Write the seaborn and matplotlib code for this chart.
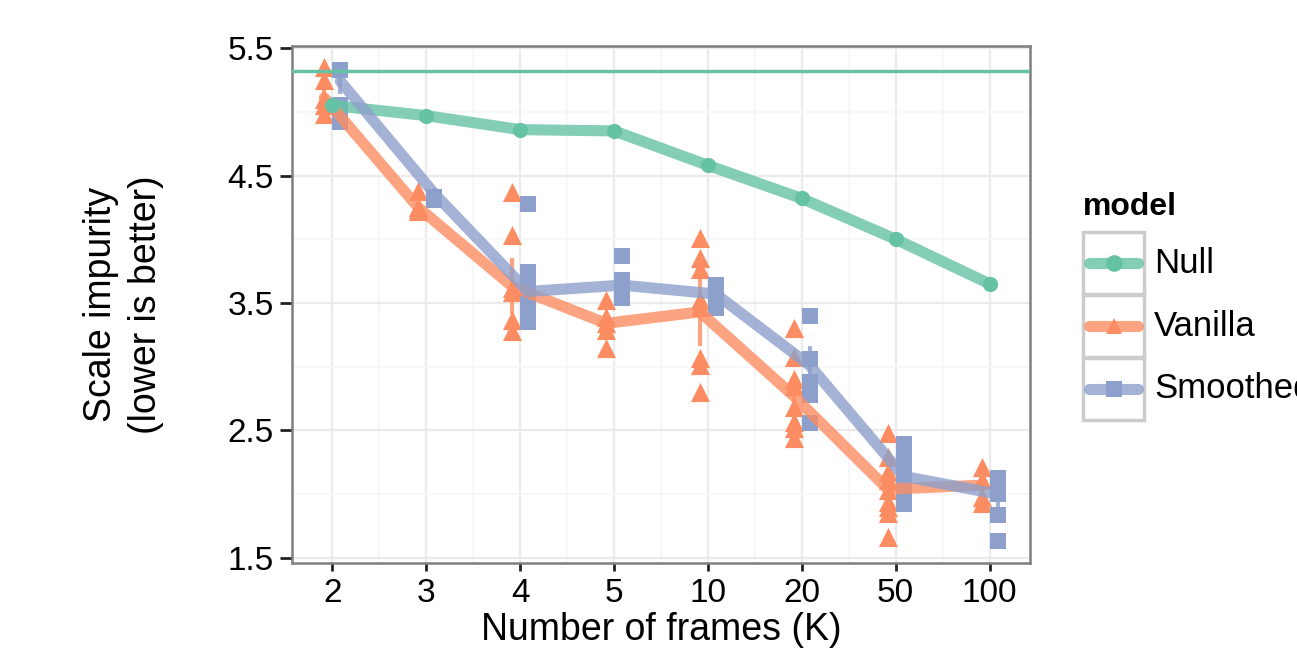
import numpy as np
import pandas as pd
import matplotlib
matplotlib.use("Agg")
import matplotlib.pyplot as plt
from matplotlib.patches import Rectangle
from matplotlib.lines import Line2D
import seaborn as sns

# ---- data ----
frames = ["2", "3", "4", "5", "10", "20", "50", "100"]
models = ["Null", "Vanilla", "Smoothed"]

null_mean = [5.05, 4.97, 4.86, 4.85, 4.58, 4.32, 4.00, 3.65]
null_baseline = 5.32

vanilla_mean = [5.11, 4.25, 3.63, 3.34, 3.43, 2.77, 2.04, 2.07]
vanilla_err = [0.08, 0.04, 0.22, 0.07, 0.27, 0.15, 0.10, 0.06]
vanilla_runs = {
    "2": [5.35, 5.25, 5.10, 5.05, 4.98],
    "3": [4.38, 4.25, 4.24, 4.22],
    "4": [4.37, 4.03, 3.62, 3.59, 3.37, 3.28],
    "5": [3.52, 3.39, 3.34, 3.29, 3.15],
    "10": [4.01, 3.85, 3.77, 3.52, 3.47, 3.07, 3.01, 2.80],
    "20": [3.30, 3.08, 2.90, 2.85, 2.68, 2.57, 2.52, 2.44],
    "50": [2.48, 2.29, 2.17, 2.11, 2.03, 1.94, 1.90, 1.85, 1.66],
    "100": [2.21, 2.11, 1.98, 1.93],
}

smoothed_mean = [5.24, 4.36, 3.59, 3.64, 3.57, 3.01, 2.14, 2.00]
smoothed_err = [0.10, 0.04, 0.10, 0.06, 0.08, 0.15, 0.12, 0.10]
smoothed_runs = {
    "2": [5.33, 5.33, 5.05, 4.98, 4.92],
    "3": [4.33, 4.31],
    "4": [4.28, 3.74, 3.65, 3.55, 3.45, 3.35],
    "5": [3.87, 3.68, 3.62, 3.56, 3.54],
    "10": [3.64, 3.58, 3.52, 3.46],
    "20": [3.40, 3.06, 2.88, 2.83, 2.78, 2.56],
    "50": [2.39, 2.30, 2.20, 2.10, 2.00, 1.92],
    "100": [2.13, 2.05, 2.00, 1.84, 1.63],
}

palette = {"Null": "#66c2a5", "Vanilla": "#fc8d62", "Smoothed": "#8da0cb"}
markers = {"Null": "o", "Vanilla": "^", "Smoothed": "s"}
msize = {"Null": 120, "Vanilla": 190, "Smoothed": 140}
dodge = {"Null": 0.0, "Vanilla": -0.085, "Smoothed": 0.085}

# ---- long tables ----
pos = {k: i for i, k in enumerate(frames)}
rows = []
for model, runs in [("Vanilla", vanilla_runs), ("Smoothed", smoothed_runs)]:
    for k, vals in runs.items():
        for v in vals:
            rows.append((model, k, pos[k] + dodge[model], v))
runs_df = pd.DataFrame(rows, columns=["model", "frames", "x", "impurity"])

mean_df = pd.concat([
    pd.DataFrame({"model": m, "frames": frames, "mean": mu, "err": e})
    for m, mu, e in [("Null", null_mean, [0] * len(frames)),
                     ("Vanilla", vanilla_mean, vanilla_err),
                     ("Smoothed", smoothed_mean, smoothed_err)]
], ignore_index=True)
mean_df["x"] = mean_df["frames"].map(pos) + mean_df["model"].map(dodge)

# ---- figure ----
sns.set_theme(style="whitegrid")
plt.rcParams["font.family"] = ["Liberation Sans", "DejaVu Sans"]
plt.rcParams["text.color"] = "black"
plt.rcParams["axes.labelcolor"] = "black"

fig = plt.figure(figsize=(12.97, 6.65), dpi=100)
ax = fig.add_axes([0.2251, 0.1534, 0.569, 0.7774])

# individual runs
for m in ["Vanilla", "Smoothed"]:
    sns.scatterplot(data=runs_df[runs_df.model == m], x="x", y="impurity",
                    color=palette[m], marker=markers[m], s=msize[m], linewidth=0,
                    ax=ax, legend=False, zorder=3)

# error bars
for m in ["Vanilla", "Smoothed"]:
    d = mean_df[mean_df.model == m]
    ax.vlines(d["x"], d["mean"] - d["err"], d["mean"] + d["err"],
              color=palette[m], alpha=0.8, lw=3, zorder=4)

# mean lines
sns.lineplot(data=mean_df, x="x", y="mean", hue="model", hue_order=models,
             palette=palette, lw=8, alpha=0.8, ax=ax, legend=False,
             estimator=None, sort=False, zorder=5)
d = mean_df[mean_df.model == "Null"]
sns.scatterplot(data=d, x="x", y="mean", color=palette["Null"], s=msize["Null"],
                linewidth=0, ax=ax, legend=False, zorder=6)

ax.axhline(null_baseline, color=palette["Null"], lw=2.5, zorder=6)

# axes styling
ax.set_xlim(-0.43, 7.43)
ax.set_ylim(1.46, 5.516)
ax.set_xticks(range(len(frames)))
ax.set_xticklabels(frames)
ax.set_xticks(np.arange(len(frames) - 1) + 0.5, minor=True)
ax.set_yticks([1.5, 2.5, 3.5, 4.5, 5.5])
ax.set_yticklabels(["1.5", "2.5", "3.5", "4.5", "5.5"])
ax.set_yticks([2.0, 3.0, 4.0, 5.0], minor=True)
ax.grid(which="major", color="#ebebeb", lw=1.6)
ax.grid(which="minor", color="#f6f6f6", lw=1.2)
ax.set_facecolor("white")
for s in ax.spines.values():
    s.set_color("#7f7f7f")
    s.set_linewidth(1.8)
ax.tick_params(which="major", direction="out", width=2, color="#222222",
               labelsize=24, labelcolor="black", bottom=True, left=True)
ax.tick_params(axis="x", which="major", length=6, pad=5)
ax.tick_params(axis="y", which="major", length=9, pad=4)
ax.tick_params(which="minor", length=0)
ax.set_xlabel("Number of frames (K)", fontsize=27, labelpad=2)
ax.set_ylabel("Scale impurity\n(lower is better)", fontsize=27, labelpad=46,
              linespacing=1.3)

# legend in ggplot style (boxed keys)
fig.text(1083 / 1297, 1 - 207 / 665, "model", fontsize=23, fontweight="bold",
         va="center", ha="left")
key_top = [232, 295, 358]
for i, m in enumerate(models):
    y0 = key_top[i]
    fig.patches.append(Rectangle((1083 / 1297, 1 - (y0 + 62) / 665),
                                 61 / 1297, 62 / 665, transform=fig.transFigure,
                                 facecolor="white", edgecolor="#cccccc", lw=2.5))
    yc = 1 - (y0 + 31) / 665
    fig.lines.append(Line2D([1089 / 1297, 1138 / 1297], [yc, yc],
                            transform=fig.transFigure, color=palette[m],
                            lw=8, alpha=0.8))
    fig.lines.append(Line2D([1113.5 / 1297], [yc], transform=fig.transFigure,
                            color=palette[m], marker=markers[m], ms=12,
                            mew=0, ls="none"))
    fig.text(1154 / 1297, yc, m, fontsize=25, va="center", ha="left")

fig.savefig("out.png", dpi=100)
